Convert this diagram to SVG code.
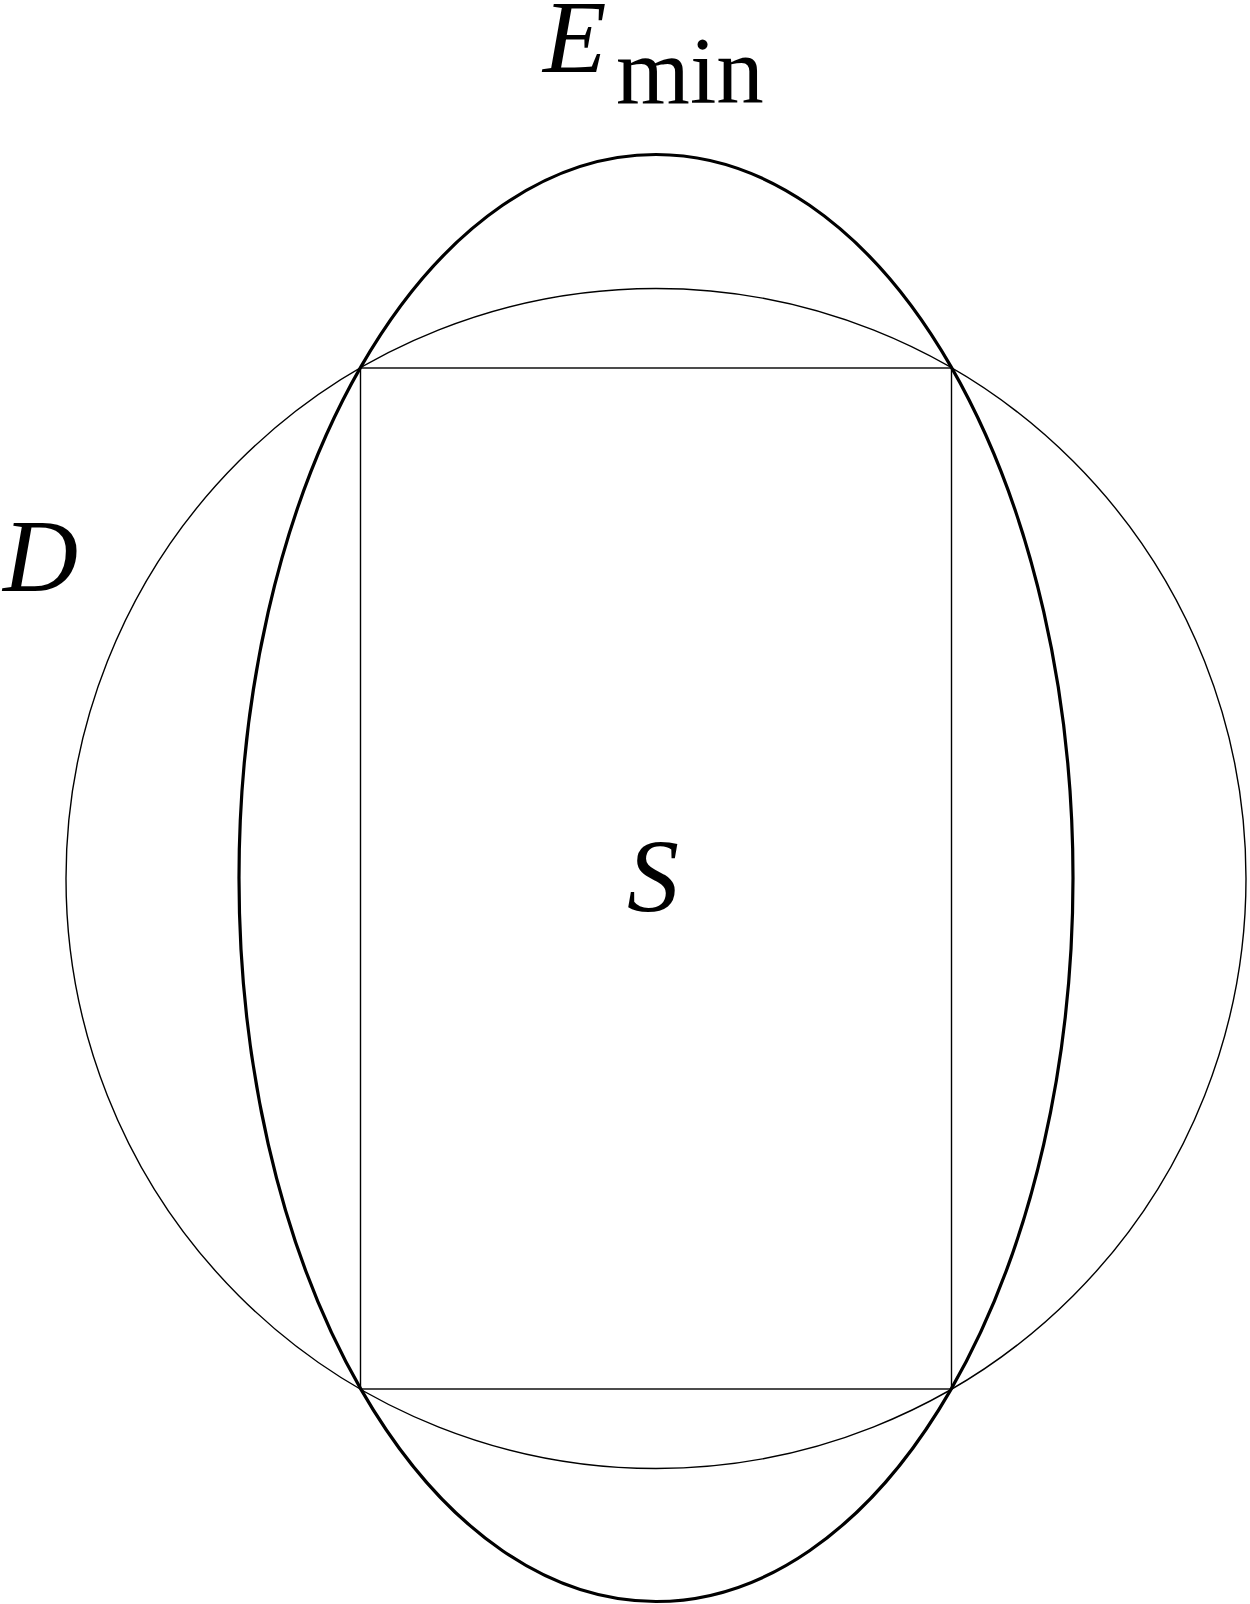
<svg xmlns="http://www.w3.org/2000/svg" width="1250" height="1604" viewBox="0 0 1250 1604">
<style>
.thin{fill:none;stroke:#000;stroke-width:1.4}
.thick{fill:none;stroke:#000;stroke-width:3.2}
.m{font-family:"Liberation Serif",serif;font-style:italic;fill:#000}
.r{font-family:"Liberation Serif",serif;fill:#000}
</style>
<rect width="1250" height="1604" fill="#fff"/>
<g id="D-circle"><circle class="thin" cx="656" cy="878.5" r="590"/></g>
<g id="S-rect"><rect class="thin" x="360.5" y="368" width="591" height="1021"/></g>
<g id="Emin-ellipse"><ellipse class="thick" cx="656" cy="878" rx="417" ry="723.5"/></g>
<g id="labels">
<text class="m" x="543" y="72" font-size="104">E</text>
<text class="r" x="616" y="103" font-size="95">min</text>
<text class="m" x="3" y="591" font-size="104">D</text>
<text class="m" x="627" y="911" font-size="104">S</text>
</g>
</svg>
